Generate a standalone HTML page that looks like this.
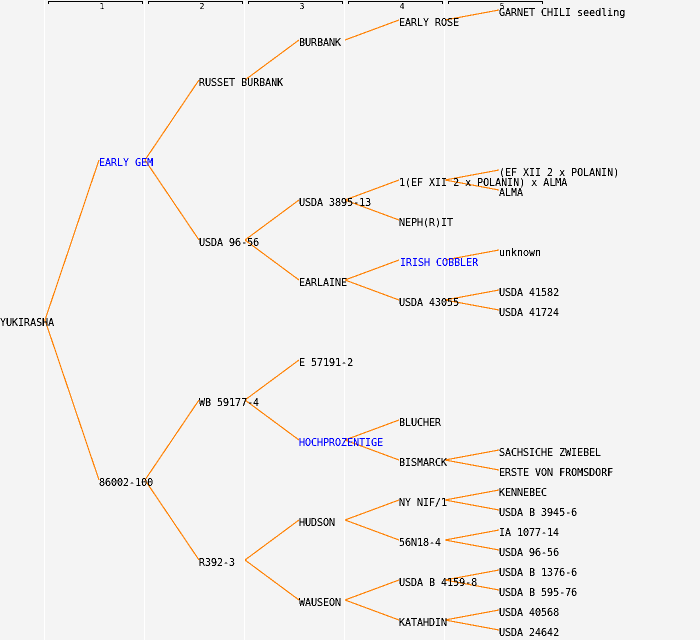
<!DOCTYPE html>
<html>
<head>
<meta charset="utf-8">
<style>
html,body{margin:0;padding:0;background:#f4f4f4;}
svg{display:block;}
text{font-family:"DejaVu Sans Mono","Liberation Mono",monospace;font-size:11px;fill:#000;}
text.b{fill:#0000ff;}
text.h{font-size:8px;}
</style>
</head>
<body>
<svg width="700" height="640" viewBox="0 0 700 640" xmlns="http://www.w3.org/2000/svg">
<defs>
<filter id="t" x="0" y="0" width="700" height="640" filterUnits="userSpaceOnUse" color-interpolation-filters="sRGB">
<feComponentTransfer><feFuncA type="discrete" tableValues="0 0 1 1 1"/></feComponentTransfer>
</filter>
</defs>
<rect width="700" height="640" fill="#f4f4f4"/>
<g fill="#ffffff">
<rect x="44" y="0" width="1" height="640"/>
<rect x="144" y="0" width="1" height="640"/>
<rect x="244" y="0" width="1" height="640"/>
<rect x="344" y="0" width="1" height="640"/>
<rect x="444" y="0" width="1" height="640"/>
</g>
<g fill="none" stroke="#000" stroke-width="1" shape-rendering="crispEdges">
<path d="M48.5 4V1.5H142.5V4"/>
<path d="M148.5 4V1.5H242.5V4"/>
<path d="M248.5 4V1.5H342.5V4"/>
<path d="M348.5 4V1.5H442.5V4"/>
<path d="M448.5 4V1.5H542.5V4"/>
</g>
<g stroke="#ff8000" stroke-width="1.15" fill="none" shape-rendering="crispEdges">
<path d="M45 320L99 160M45 320L99 480"/>
<path d="M145 160L199 80M145 160L199 240M145 480L199 400M145 480L199 560"/>
<path d="M245 80L299 40M245 240L299 200M245 240L299 280M245 400L299 360M245 400L299 440M245 560L299 520M245 560L299 600"/>
<path d="M345 40L399 20M345 200L399 180M345 200L399 220M345 280L399 260M345 280L399 300M345 440L399 420M345 440L399 460M345 520L399 500M345 520L399 540M345 600L399 580M345 600L399 620"/>
<path d="M445 20L499 10M445 180L499 170M445 180L499 190M445 260L499 250M445 300L499 290M445 300L499 310M445 460L499 450M445 460L499 470M445 500L499 490M445 500L499 510M445 540L499 530M445 540L499 550M445 580L499 570M445 580L499 590M445 620L499 610M445 620L499 630"/>
</g>
<g filter="url(#t)">
<g text-anchor="middle">
<text class="h" x="102" y="9">1</text>
<text class="h" x="202" y="9">2</text>
<text class="h" x="302" y="9">3</text>
<text class="h" x="402" y="9">4</text>
<text class="h" x="502" y="9">5</text>
</g>
<g transform="scale(.909 1)">
<text x="0" y="326">YUKIRASHA</text>
<text class="b" x="108.9" y="166">EARLY GEM</text>
<text x="108.9" y="486">86002-100</text>
<text x="218.9" y="86">RUSSET BURBANK</text>
<text x="218.9" y="246">USDA 96-56</text>
<text x="218.9" y="406">WB 59177-4</text>
<text x="218.9" y="566">R392-3</text>
<text x="328.9" y="46">BURBANK</text>
<text x="328.9" y="206">USDA 3895-13</text>
<text x="328.9" y="286">EARLAINE</text>
<text x="328.9" y="366">E 57191-2</text>
<text class="b" x="328.9" y="446">HOCHPROZENTIGE</text>
<text x="328.9" y="526">HUDSON</text>
<text x="328.9" y="606">WAUSEON</text>
<text x="438.9" y="26">EARLY ROSE</text>
<text x="438.9" y="186">1(EF XII 2 x POLANIN) x ALMA</text>
<text x="438.9" y="226">NEPH(R)IT</text>
<text class="b" x="440" y="266">IRISH COBBLER</text>
<text x="438.9" y="306">USDA 43055</text>
<text x="438.9" y="426">BLUCHER</text>
<text x="438.9" y="466">BISMARCK</text>
<text x="438.9" y="506">NY NIF/1</text>
<text x="438.9" y="546">56N18-4</text>
<text x="438.9" y="586">USDA B 4159-8</text>
<text x="438.9" y="626">KATAHDIN</text>
<text x="548.9" y="16">GARNET CHILI seedling</text>
<text x="548.9" y="176">(EF XII 2 x POLANIN)</text>
<text x="548.9" y="196">ALMA</text>
<text x="548.9" y="256">unknown</text>
<text x="548.9" y="296">USDA 41582</text>
<text x="548.9" y="316">USDA 41724</text>
<text x="548.9" y="456">SACHSICHE ZWIEBEL</text>
<text x="548.9" y="476">ERSTE VON FROMSDORF</text>
<text x="548.9" y="496">KENNEBEC</text>
<text x="548.9" y="516">USDA B 3945-6</text>
<text x="548.9" y="536">IA 1077-14</text>
<text x="548.9" y="556">USDA 96-56</text>
<text x="548.9" y="576">USDA B 1376-6</text>
<text x="548.9" y="596">USDA B 595-76</text>
<text x="548.9" y="616">USDA 40568</text>
<text x="548.9" y="636">USDA 24642</text>
</g>
</g>
</svg>
</body>
</html>
